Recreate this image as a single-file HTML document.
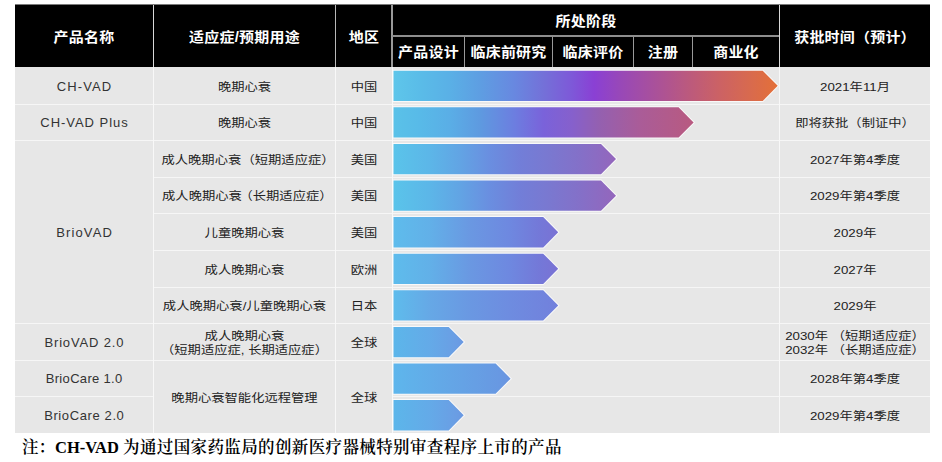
<!DOCTYPE html>
<html><head><meta charset="utf-8">
<style>
*{margin:0;padding:0;box-sizing:border-box}
html,body{width:942px;height:462px;background:#fff;overflow:hidden}
body{position:relative;font-family:"Liberation Sans","Noto Sans CJK SC",sans-serif}
.a{position:absolute}
.hd{left:15px;top:5px;width:915px;height:62px;background:#000}
.bd{left:15px;top:67px;width:915px;height:366px;background:#e7e7e7}
.v{position:absolute;width:1px}
.h{position:absolute;height:1px}
.c{position:absolute;display:flex;align-items:center;justify-content:center;text-align:center;white-space:nowrap}
.th{color:#fff;font-weight:bold;font-size:15px;letter-spacing:0.2px;transform:scaleY(0.93);padding-bottom:2px}
.td{color:#222;font-size:13.3px;line-height:16px;padding-top:4px;transform:scaleY(0.88)}
.en{color:#333;font-size:13px;padding-top:1px}
.note{position:absolute;left:22px;top:437px;font-family:"Liberation Serif","Noto Serif CJK SC",serif;font-size:16.5px;font-weight:600;color:#000;white-space:nowrap;line-height:22px}
</style></head><body>
<div class="a hd"></div>
<div class="h" style="left:15px;top:4px;width:915px;background:#7a7a7a"></div>
<div class="a bd"></div>

<!-- header lines -->
<div class="v" style="left:153px;top:5px;height:62px;background:#d8d8d8"></div>
<div class="v" style="left:335px;top:5px;height:62px;background:#b8b8b8"></div>
<div class="v" style="left:391px;top:5px;height:62px;width:2px;background:#999"></div>
<div class="v" style="left:779px;top:5px;height:62px;background:#d8d8d8"></div>
<div class="h" style="left:392px;top:35px;width:387px;height:2px;background:#8e8e8e"></div>
<div class="v" style="left:464px;top:37px;height:30px;background:#999"></div>
<div class="v" style="left:552px;top:37px;height:30px;background:#999"></div>
<div class="v" style="left:633px;top:37px;height:30px;background:#999"></div>
<div class="v" style="left:692px;top:37px;height:30px;background:#999"></div>

<!-- header text -->
<div class="c th" style="left:15px;top:5px;width:138px;height:62px">产品名称</div>
<div class="c th" style="left:154px;top:5px;width:181px;height:62px">适应症/预期用途</div>
<div class="c th" style="left:336px;top:5px;width:56px;height:62px">地区</div>
<div class="c th" style="left:393px;top:5px;width:386px;height:30px">所处阶段</div>
<div class="c th" style="left:393px;top:36px;width:71px;height:31px">产品设计</div>
<div class="c th" style="left:465px;top:36px;width:87px;height:31px">临床前研究</div>
<div class="c th" style="left:553px;top:36px;width:80px;height:31px">临床评价</div>
<div class="c th" style="left:634px;top:36px;width:58px;height:31px">注册</div>
<div class="c th" style="left:693px;top:36px;width:86px;height:31px">商业化</div>
<div class="c th" style="left:780px;top:5px;width:150px;height:62px">获批时间（预计）</div>

<!-- body separators -->
<div class="h" style="left:15px;top:104px;width:915px;background:#f6f6f6"></div>
<div class="h" style="left:15px;top:140px;width:915px;background:#f6f6f6"></div>
<div class="h" style="left:154px;top:177px;width:776px;background:#f6f6f6"></div>
<div class="h" style="left:154px;top:213px;width:776px;background:#f6f6f6"></div>
<div class="h" style="left:154px;top:250px;width:776px;background:#f6f6f6"></div>
<div class="h" style="left:154px;top:287px;width:776px;background:#f6f6f6"></div>
<div class="h" style="left:15px;top:323px;width:915px;background:#f6f6f6"></div>
<div class="h" style="left:15px;top:360px;width:915px;background:#f6f6f6"></div>
<div class="h" style="left:15px;top:396px;width:138px;background:#f6f6f6"></div>
<div class="h" style="left:392px;top:396px;width:538px;background:#f6f6f6"></div>
<div class="v" style="left:153px;top:67px;height:366px;background:#f8f8f8"></div>
<div class="v" style="left:335px;top:67px;height:366px;background:#f8f8f8"></div>
<div class="v" style="left:392px;top:67px;height:366px;background:#f8f8f8"></div>
<div class="v" style="left:779px;top:67px;height:366px;background:#f8f8f8"></div>

<!-- col 0 -->
<div class="c en" style="letter-spacing:1.08px;padding-left:1.08px;left:15px;top:67px;width:138px;height:37px">CH-VAD</div>
<div class="c en" style="letter-spacing:0.96px;padding-left:0.96px;left:15px;top:104px;width:138px;height:36px">CH-VAD Plus</div>
<div class="c en" style="letter-spacing:1.13px;padding-left:1.13px;left:15px;top:140px;width:138px;height:183px">BrioVAD</div>
<div class="c en" style="letter-spacing:0.86px;padding-left:0.86px;left:15px;top:323px;width:138px;height:37px">BrioVAD 2.0</div>
<div class="c en" style="letter-spacing:0.32px;padding-left:0.32px;left:15px;top:360px;width:138px;height:36px">BrioCare 1.0</div>
<div class="c en" style="letter-spacing:0.61px;padding-left:0.61px;left:15px;top:396px;width:138px;height:37px">BrioCare 2.0</div>

<!-- col 1 -->
<div class="c td" style="left:154px;top:67px;width:181px;height:37px">晚期心衰</div>
<div class="c td" style="left:154px;top:104px;width:181px;height:36px">晚期心衰</div>
<div class="c td" style="left:154px;top:140px;width:181px;height:37px;padding-left:7px"><span>成人晚期心衰 <span style="margin-left:-3.5px">（短期适应症）</span></span></div>
<div class="c td" style="left:154px;top:177px;width:181px;height:36px;padding-left:5.6px"><span>成人晚期心衰<span style="margin-left:-2.4px">（长期适应症）</span></span></div>
<div class="c td" style="left:154px;top:213px;width:181px;height:37px">儿童晚期心衰</div>
<div class="c td" style="left:154px;top:250px;width:181px;height:37px">成人晚期心衰</div>
<div class="c td" style="left:154px;top:287px;width:181px;height:36px">成人晚期心衰/儿童晚期心衰</div>
<div class="c td" style="left:154px;top:323px;width:181px;height:37px"><span>成人晚期心衰<br>（短期适应症, 长期适应症）</span></div>
<div class="c td" style="left:154px;top:360px;width:181px;height:73px">晚期心衰智能化远程管理</div>

<!-- col 2 -->
<div class="c td" style="left:336px;top:67px;width:56px;height:37px">中国</div>
<div class="c td" style="left:336px;top:104px;width:56px;height:36px">中国</div>
<div class="c td" style="left:336px;top:140px;width:56px;height:37px">美国</div>
<div class="c td" style="left:336px;top:177px;width:56px;height:36px">美国</div>
<div class="c td" style="left:336px;top:213px;width:56px;height:37px">美国</div>
<div class="c td" style="left:336px;top:250px;width:56px;height:37px">欧洲</div>
<div class="c td" style="left:336px;top:287px;width:56px;height:36px">日本</div>
<div class="c td" style="left:336px;top:323px;width:56px;height:37px">全球</div>
<div class="c td" style="left:336px;top:360px;width:56px;height:73px">全球</div>

<!-- col 4 -->
<div class="c td" style="left:780px;top:67px;width:150px;height:37px">2021年11月</div>
<div class="c td" style="left:780px;top:104px;width:150px;height:36px">即将获批（制证中）</div>
<div class="c td" style="left:780px;top:140px;width:150px;height:37px">2027年第4季度</div>
<div class="c td" style="left:780px;top:177px;width:150px;height:36px">2029年第4季度</div>
<div class="c td" style="left:780px;top:213px;width:150px;height:37px">2029年</div>
<div class="c td" style="left:780px;top:250px;width:150px;height:37px">2027年</div>
<div class="c td" style="left:780px;top:287px;width:150px;height:36px">2029年</div>
<div class="c td" style="left:780px;top:323px;width:150px;height:37px"><span>2030年 （短期适应症）<br>2032年 （长期适应症）</span></div>
<div class="c td" style="left:780px;top:360px;width:150px;height:36px">2028年第4季度</div>
<div class="c td" style="left:780px;top:396px;width:150px;height:37px">2029年第4季度</div>

<!-- arrows -->
<svg class="a" style="left:0;top:0" width="942" height="462" viewBox="0 0 942 462">
<defs>
<linearGradient id="g1" x1="0" x2="1" y1="0" y2="0"><stop offset="0.000" stop-color="#5ec6ea"/><stop offset="0.069" stop-color="#5abce8"/><stop offset="0.147" stop-color="#5ab0e6"/><stop offset="0.225" stop-color="#5e9ee2"/><stop offset="0.314" stop-color="#6888e0"/><stop offset="0.392" stop-color="#7470d8"/><stop offset="0.465" stop-color="#7e58d8"/><stop offset="0.522" stop-color="#8a40d4"/><stop offset="0.590" stop-color="#9848b8"/><stop offset="0.694" stop-color="#ac5296"/><stop offset="0.772" stop-color="#bc5a7c"/><stop offset="0.850" stop-color="#cc6264"/><stop offset="0.928" stop-color="#d86a4e"/><stop offset="1.000" stop-color="#e47038"/></linearGradient>
<linearGradient id="g2" x1="0" x2="1" y1="0" y2="0"><stop offset="0.000" stop-color="#5ac2e8"/><stop offset="0.088" stop-color="#58bae8"/><stop offset="0.188" stop-color="#5aaee6"/><stop offset="0.288" stop-color="#5e9ae0"/><stop offset="0.402" stop-color="#6c7ee0"/><stop offset="0.501" stop-color="#7a62da"/><stop offset="0.595" stop-color="#8660cc"/><stop offset="0.685" stop-color="#9460b0"/><stop offset="0.821" stop-color="#aa5c98"/><stop offset="1.000" stop-color="#b85a80"/></linearGradient>
<linearGradient id="g3" x1="0" x2="1" y1="0" y2="0"><stop offset="0.000" stop-color="#5ac4ea"/><stop offset="0.164" stop-color="#5cb6e8"/><stop offset="0.299" stop-color="#62a4e4"/><stop offset="0.434" stop-color="#6a8ee0"/><stop offset="0.569" stop-color="#727ed8"/><stop offset="0.703" stop-color="#7a78d0"/><stop offset="0.838" stop-color="#8470c8"/><stop offset="1.000" stop-color="#9466bc"/></linearGradient>
<linearGradient id="g5" x1="0" x2="1" y1="0" y2="0"><stop offset="0.000" stop-color="#5ebcec"/><stop offset="0.222" stop-color="#62b0e8"/><stop offset="0.464" stop-color="#6a98e2"/><stop offset="0.707" stop-color="#6e88e0"/><stop offset="0.889" stop-color="#7478d8"/><stop offset="1.000" stop-color="#7a72d4"/></linearGradient>
<linearGradient id="g7" x1="0" x2="1" y1="0" y2="0"><stop offset="0.000" stop-color="#5ebcec"/><stop offset="0.222" stop-color="#66a8e6"/><stop offset="0.464" stop-color="#6a98e2"/><stop offset="0.707" stop-color="#6e8ce0"/><stop offset="1.000" stop-color="#7280dc"/></linearGradient>
<linearGradient id="g8" x1="0" x2="1" y1="0" y2="0"><stop offset="0.000" stop-color="#5cb6ea"/><stop offset="0.520" stop-color="#64aae8"/><stop offset="0.876" stop-color="#6a9ee4"/><stop offset="1.000" stop-color="#6a98e2"/></linearGradient>
<linearGradient id="g9" x1="0" x2="1" y1="0" y2="0"><stop offset="0.000" stop-color="#5eb6ec"/><stop offset="0.482" stop-color="#64a6e6"/><stop offset="0.909" stop-color="#6898e2"/><stop offset="1.000" stop-color="#6a94e0"/></linearGradient>
</defs>
<g stroke="#fff" stroke-opacity="0.75" stroke-width="2" paint-order="stroke" stroke-linejoin="miter">
<polygon fill="url(#g1)" points="393.5,70.7 762.7,70.7 777.7,85.85 762.7,101 393.5,101"/>
<polygon fill="url(#g2)" points="393.5,107.3 678.6,107.3 693.6,122.45 678.6,137.6 393.5,137.6"/>
<polygon fill="url(#g3)" points="393.5,143.9 601,143.9 616,159.05 601,174.2 393.5,174.2"/>
<polygon fill="url(#g3)" points="393.5,180.5 601,180.5 616,195.65 601,210.8 393.5,210.8"/>
<polygon fill="url(#g5)" points="393.5,217.1 543.2,217.1 558.2,232.25 543.2,247.4 393.5,247.4"/>
<polygon fill="url(#g5)" points="393.5,253.7 543.2,253.7 558.2,268.85 543.2,284 393.5,284"/>
<polygon fill="url(#g7)" points="393.5,290.3 543.2,290.3 558.2,305.45 543.2,320.6 393.5,320.6"/>
<polygon fill="url(#g8)" points="393.5,326.9 448.7,326.9 463.7,342.05 448.7,357.2 393.5,357.2"/>
<polygon fill="url(#g9)" points="393.5,363.5 495.6,363.5 510.6,378.65 495.6,393.8 393.5,393.8"/>
<polygon fill="url(#g8)" points="393.5,400.1 448.7,400.1 463.7,415.25 448.7,430.4 393.5,430.4"/>
</g>
</svg>

<div class="note">注：<b>CH-VAD</b> <span style="letter-spacing:0.38px">为通过国家药监局的创新医疗器械特别审查程序上市的产品</span></div>
</body></html>
